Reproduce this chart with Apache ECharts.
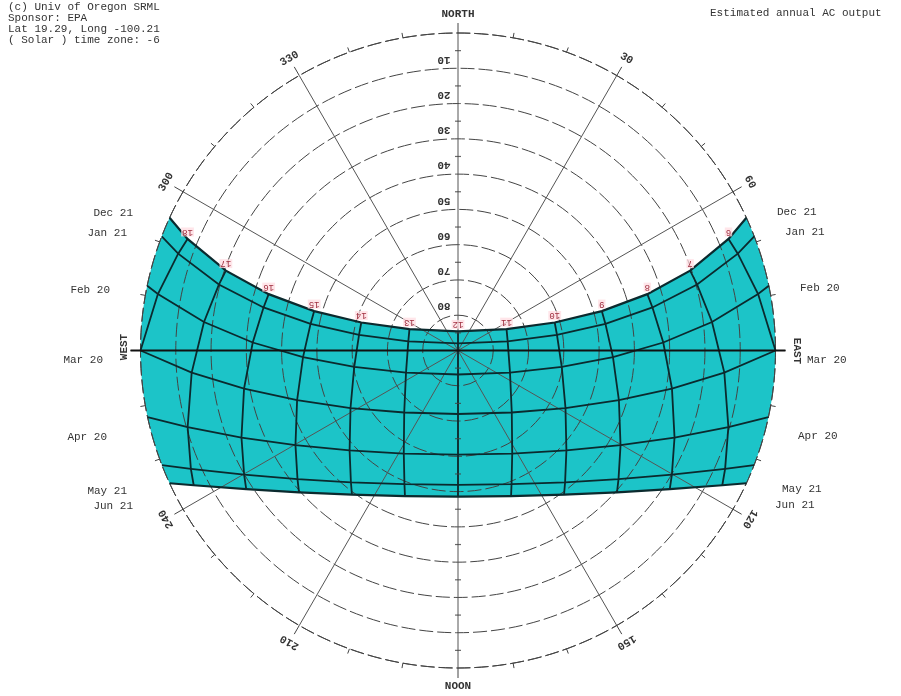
<!DOCTYPE html>
<html>
<head>
<meta charset="utf-8">
<script src="https://cdn.jsdelivr.net/npm/echarts@6/dist/echarts.min.js"></script>
<style>
  html, body { margin: 0; padding: 0; background: #ffffff; }
  #chart { width: 901px; height: 696px; }
</style>
</head>
<body>
<div id="chart"></div>
<script>
// Solar hours drawn as hour lines (solar time, 24 h labels)
const hours = [6, 7, 8, 9, 10, 11, 12, 13, 14, 15, 16, 17, 18];
const hourLabels = ['6', '7', '8', '9', '10', '11', '12', '13', '14', '15', '16', '17', '18'];

// Dates of the sun path lines, top to bottom
const dates = ['Dec 21', 'Jan 21', 'Feb 20', 'Mar 20', 'Apr 20', 'May 21', 'Jun 21'];

// Sunrise azimuth of each date (sunset is mirrored about north-south)
const riseAz = [65.28, 68.92, 78.22, 90.00, 102.10, 111.18, 114.72];

// Sun position [azimuth, altitude] in degrees at each hour; null = below horizon
const pathDec21 = [[67.59, 7.06], [71.01, 20.41], [73.42, 34.00], [74.67, 47.73], [73.86, 61.46], [66.26, 74.97], [0, 84.57],
  [293.74, 74.97], [286.14, 61.46], [285.33, 47.73], [286.58, 34.00], [288.99, 20.41], [292.41, 7.06]];
const pathJan21 = [[70.91, 6.07], [74.59, 19.69], [77.52, 33.54], [79.77, 47.53], [81.07, 61.60], [79.57, 75.68], [0, 88.00],
  [280.43, 75.68], [278.93, 61.60], [280.23, 47.53], [282.48, 33.54], [285.41, 19.69], [289.09, 6.07]];
const pathFeb20 = [[79.34, 3.44], [83.60, 17.55], [87.77, 31.77], [92.45, 46.03], [99.01, 60.22], [113.07, 73.98], [180, 83.20],
  [246.93, 73.98], [260.99, 60.22], [267.55, 46.03], [272.23, 31.77], [276.40, 17.55], [280.66, 3.44]];
const pathMar20 = [[90.00, 0.00], [94.73, 14.25], [100.12, 28.39], [107.17, 42.26], [118.16, 55.44], [139.07, 66.73], [180, 72.00],
  [220.93, 66.73], [241.84, 55.44], [252.83, 42.26], [259.88, 28.39], [265.27, 14.25], [270.00, 0.00]];
const pathApr20 = [null, [105.81, 10.35], [111.90, 23.85], [120.22, 36.68], [132.68, 48.20], [152.25, 56.99], [180, 60.50],
  [207.75, 56.99], [227.32, 48.20], [239.78, 36.68], [248.10, 23.85], [254.19, 10.35], null];
const pathMay21 = [null, [113.90, 7.18], [120.13, 19.90], [128.70, 31.70], [140.91, 41.86], [158.18, 49.17], [180, 51.90],
  [201.82, 49.17], [219.09, 41.86], [231.30, 31.70], [239.87, 19.90], [246.10, 7.18], null];
const pathJun21 = [null, [117.01, 5.91], [123.20, 18.26], [131.73, 29.61], [143.67, 39.26], [159.99, 46.05], [180, 48.56],
  [200.01, 46.05], [216.33, 39.26], [228.27, 29.61], [236.80, 18.26], [242.99, 5.91], null];

const paths = [pathDec21, pathJan21, pathFeb20, pathMar20, pathApr20, pathMay21, pathJun21];

// Altitude rings and azimuth spokes
const ringAlts = [10, 20, 30, 40, 50, 60, 70, 80];
const spokeAz = [30, 60, 120, 150, 210, 240, 300, 330];
const halfTickAlts = [5, 15, 25, 35, 45, 55, 65, 75, 85];

const headerLines = ['(c) Univ of Oregon SRML', 'Sponsor: EPA', 'Lat 19.29, Long -100.21', '( Solar ) time zone: -6'];
const headerRight = 'Estimated annual AC output';

const FONT = '"Liberation Mono", "DejaVu Sans Mono", monospace';
const LINE_DARK = '#0b2a2e';
const FILL = '#1cc4c8';

// full date path: sunrise on the horizon, the daylight hours, sunset on the horizon
function fullPath(i) {
  const pts = [[riseAz[i], 0]];
  paths[i].forEach(p => { if (p) pts.push(p); });
  pts.push([360 - riseAz[i], 0]);
  return pts;
}
const toPx = (api, p) => api.coord([p[1], p[0]]);

function renderBandFill(params, api) {
  const pts = [];
  fullPath(0).forEach(p => pts.push(toPx(api, p)));
  for (let a = 360 - riseAz[0]; a > 360 - riseAz[6]; a -= 1) pts.push(api.coord([0, a]));
  fullPath(6).slice().reverse().forEach(p => pts.push(toPx(api, p)));
  for (let a = riseAz[6]; a > riseAz[0]; a -= 1) pts.push(api.coord([0, a]));
  return { type: 'polygon', shape: { points: pts }, style: { fill: FILL, stroke: null } };
}

function renderBandLines(params, api) {
  const children = [];
  paths.forEach((p, i) => {
    const edge = (i === 0 || i === paths.length - 1);
    children.push({
      type: 'polyline',
      shape: { points: fullPath(i).map(q => toPx(api, q)) },
      style: { stroke: LINE_DARK, lineWidth: edge ? 2.2 : 1.8, fill: null }
    });
  });
  hours.forEach((h, j) => {
    const pts = paths.map(p => p[j]).filter(q => q).map(q => toPx(api, q));
    children.push({
      type: 'polyline',
      shape: { points: pts },
      style: { stroke: LINE_DARK, lineWidth: 1.8, fill: null }
    });
  });
  return { type: 'group', children };
}

function renderEastWest(params, api) {
  const w = api.coord([0, 270]);
  const e = api.coord([0, 90]);
  return {
    type: 'line',
    shape: { x1: w[0] - 10, y1: w[1], x2: e[0] + 10, y2: e[1] },
    style: { stroke: '#111', lineWidth: 2 }
  };
}

function renderRingLabels(params, api) {
  return {
    type: 'group',
    children: ringAlts.map(a => {
      const p = api.coord([a, 0]);
      return {
        type: 'text', x: p[0] - 14, y: p[1] - 9, rotation: Math.PI,
        style: { text: String(a), font: 'bold 11px ' + FONT, fill: '#333', align: 'center', verticalAlign: 'middle' }
      };
    })
  };
}

function renderSpokeLabels(params, api) {
  const c = api.coord([90, 0]);
  const R = 337;
  return {
    type: 'group',
    children: spokeAz.map(az => {
      const r = az * Math.PI / 180;
      return {
        type: 'text', x: c[0] + R * Math.sin(r), y: c[1] - R * Math.cos(r), rotation: -r,
        style: { text: String(az), font: 'bold 11px ' + FONT, fill: '#333', align: 'center', verticalAlign: 'middle' }
      };
    })
  };
}

function renderHourLabels(params, api) {
  const children = [];
  pathDec21.forEach((p, j) => {
    const q = toPx(api, p);
    children.push({
      type: 'text', x: q[0], y: q[1] - 7, rotation: Math.PI,
      style: {
        text: hourLabels[j], font: '9px ' + FONT, fill: '#a03040',
        backgroundColor: 'rgba(255,220,225,0.75)', padding: [0, 1],
        align: 'center', verticalAlign: 'middle'
      }
    });
  });
  return { type: 'group', children };
}

const chart = echarts.init(document.getElementById('chart'));

const leftDateLabels = [[133, 213], [127, 233], [110, 290], [103, 360], [107, 437], [127, 491], [133, 506]];
const rightDateLabels = [[777, 212], [785, 232], [800, 288], [807, 360], [798, 436], [782, 489], [775, 505]];

const graphics = [];
headerLines.forEach((t, i) => graphics.push({
  type: 'text', left: 8, top: 2 + i * 11,
  style: { text: t, font: '11px ' + FONT, fill: '#333' }
}));
graphics.push({ type: 'text', left: 710, top: 8, style: { text: headerRight, font: '11px ' + FONT, fill: '#333' } });
graphics.push({ type: 'text', x: 458, y: 14, style: { text: 'NORTH', font: 'bold 11px ' + FONT, fill: '#333', align: 'center', verticalAlign: 'middle' } });
graphics.push({ type: 'text', x: 458, y: 686, style: { text: 'NOON', font: 'bold 11px ' + FONT, fill: '#333', align: 'center', verticalAlign: 'middle' } });
graphics.push({ type: 'text', x: 124, y: 347, rotation: Math.PI / 2, style: { text: 'WEST', font: 'bold 11px ' + FONT, fill: '#333', align: 'center', verticalAlign: 'middle' } });
graphics.push({ type: 'text', x: 797, y: 351, rotation: -Math.PI / 2, style: { text: 'EAST', font: 'bold 11px ' + FONT, fill: '#333', align: 'center', verticalAlign: 'middle' } });
dates.forEach((d, i) => {
  graphics.push({ type: 'text', x: leftDateLabels[i][0], y: leftDateLabels[i][1],
    style: { text: d, font: '11px ' + FONT, fill: '#333', align: 'right', verticalAlign: 'middle' } });
  graphics.push({ type: 'text', x: rightDateLabels[i][0], y: rightDateLabels[i][1],
    style: { text: d, font: '11px ' + FONT, fill: '#333', align: 'left', verticalAlign: 'middle' } });
});

chart.setOption({
  animation: false,
  backgroundColor: '#ffffff',
  polar: { center: [458, 350.5], radius: 317.5 },
  angleAxis: {
    type: 'value', min: 0, max: 360, interval: 30, startAngle: 90, clockwise: true, z: 2,
    axisLine: { show: true, lineStyle: { color: '#444', width: 1, type: [14, 4] } },
    axisTick: { show: true, length: 10, lineStyle: { color: '#444' } },
    minorTick: { show: true, splitNumber: 3, length: 5, lineStyle: { color: '#444' } },
    axisLabel: { show: false },
    splitLine: { show: true, lineStyle: { color: '#555', width: 1 } }
  },
  radiusAxis: {
    type: 'value', min: 0, max: 90, interval: 10, inverse: true, z: 2,
    axisLine: { show: false }, axisTick: { show: false }, axisLabel: { show: false },
    splitLine: { show: true, lineStyle: { color: '#444', width: 1, type: [14, 4] } }
  },
  graphic: graphics,
  series: [
    { type: 'custom', coordinateSystem: 'polar', z: 1, silent: true, data: [[90, 0]], renderItem: renderBandFill },
    { type: 'custom', coordinateSystem: 'polar', z: 3, silent: true, data: [[90, 0]], renderItem: renderBandLines },
    { type: 'custom', coordinateSystem: 'polar', z: 4, silent: true, data: [[90, 0]], renderItem: renderEastWest },
    {
      type: 'scatter', coordinateSystem: 'polar', z: 4, silent: true,
      symbol: 'rect', symbolSize: [6, 1.2], itemStyle: { color: '#444' },
      data: halfTickAlts.map(a => [a, 0]).concat(halfTickAlts.map(a => [a, 180]))
    },
    { type: 'custom', coordinateSystem: 'polar', z: 5, silent: true, data: [[90, 0]], renderItem: renderRingLabels },
    { type: 'custom', coordinateSystem: 'polar', z: 5, silent: true, data: [[90, 0]], renderItem: renderSpokeLabels },
    { type: 'custom', coordinateSystem: 'polar', z: 5, silent: true, data: [[90, 0]], renderItem: renderHourLabels }
  ]
});
</script>
</body>
</html>
